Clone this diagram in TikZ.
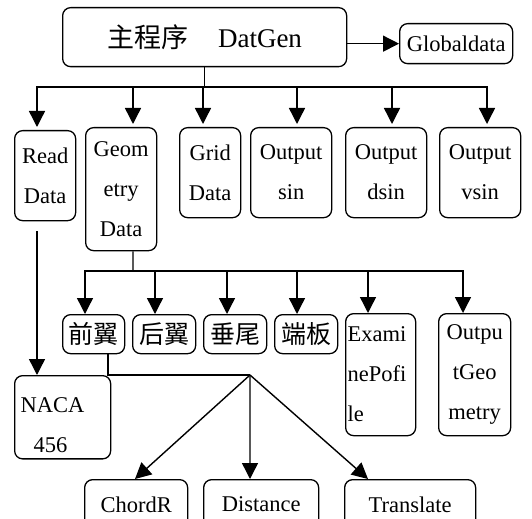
\documentclass[tikz,border=0pt]{standalone}
\usepackage{fontspec}
\setmainfont{Liberation Serif}
\newfontfamily\cjk{Noto Sans CJK SC}
\usetikzlibrary{arrows.meta}
\begin{document}
\begin{tikzpicture}[x=1bp,y=-1bp,
  box/.style={draw, rounded corners=8bp, line width=1.3bp, inner sep=3bp, align=center,
    anchor=north west, font=\fontsize{22.5bp}{40bp}\selectfont},
  cbox/.style={box, font=\cjk\fontsize{25bp}{30bp}\selectfont, minimum height=39bp},
  ln/.style={line width=1.4bp},
  arr/.style={line width=1.4bp, -{Triangle[length=16bp,width=16bp]}}]
\useasboundingbox (0,0) rectangle (532,519);
\clip (0,0) rectangle (532,519);
% top
\node[box, minimum width=284bp, minimum height=59bp, font=\fontsize{27bp}{30bp}\selectfont] (main) at (62,7) {{\cjk 主程序}\hspace{1.1em}DatGen};
\node[box, minimum width=113bp, minimum height=40bp] (glob) at (399,23) {Globaldata};
% row 2
\node[box, minimum width=61bp, minimum height=90bp] (read) at (14,130) {Read\\Data};
\node[box, minimum width=71bp, minimum height=123bp] (geom) at (85,127) {Geom\\etry\\Data};
\node[box, minimum width=61bp, minimum height=90bp] (grid) at (179,127) {Grid\\Data};
\node[box, minimum width=81bp, minimum height=90bp] (osin) at (250,127) {Output\\sin};
\node[box, minimum width=81bp, minimum height=90bp] (odsin) at (345,127) {Output\\dsin};
\node[box, minimum width=81bp, minimum height=90bp] (ovsin) at (439,127) {Output\\vsin};
% row 3
\node[cbox, minimum width=62bp] (qian) at (62,314) {前翼};
\node[cbox, minimum width=63bp] (hou) at (132,314) {后翼};
\node[cbox, minimum width=63bp] (chui) at (203,314) {垂尾};
\node[cbox, minimum width=63bp] (duan) at (274,314) {端板};
\node[box, align=left, inner sep=2bp, text width=66bp, minimum height=122bp] (exam) at (345,313) {Exami\\nePofi\\le};
\node[box, minimum width=72bp, minimum height=122bp] (outg) at (438,313) {Outpu\\tGeo\\metry};
\node[box, align=left, inner sep=6bp, text width=84bp, minimum height=83bp] (naca) at (14,375) {\rule{0pt}{31bp}NACA\\\hspace*{13bp}456};
% bottom
\node[box, minimum width=103bp, minimum height=50bp] (chord) at (84,479) {ChordR};
\node[box, minimum width=115bp, minimum height=50bp] (dist) at (203,479) {Distance};
\node[box, minimum width=131bp, minimum height=50bp] (trans) at (344,479) {Translate};
% connectors
\coordinate (b1) at (203,87);
\coordinate (b2) at (133,271);
\coordinate (hub) at (250,375);
\draw[arr] (main.east |- glob.west) -- (glob.west);
\draw[ln] (main.south) -- (main.south |- b1);
\foreach \n/\s in {read/23,geom/48,grid/24,osin/47,odsin/47,ovsin/48}
  \draw[arr, shorten >=3bp] (main.south |- b1) -| ([xshift=\s bp]\n.north west);
\draw[ln] ([xshift=48bp]geom.south west) -- (b2);
\foreach \n/\s in {qian/23,hou/23,chui/24,duan/23,exam/23,outg/25}
  \draw[arr] (b2) -| ([xshift=\s bp]\n.north west);
\draw[arr] ([xshift=23bp,yshift=-10bp]read.south west) -- ([xshift=23bp]naca.north west);
\draw[ln] ([xshift=46bp]qian.south west) |- (hub);
\draw[arr] (hub) -- ([xshift=51bp]chord.north west);
\draw[arr] (hub) -- ([xshift=47bp]dist.north west);
\draw[arr] (hub) -- ([xshift=24bp]trans.north west);
\end{tikzpicture}
\end{document}
